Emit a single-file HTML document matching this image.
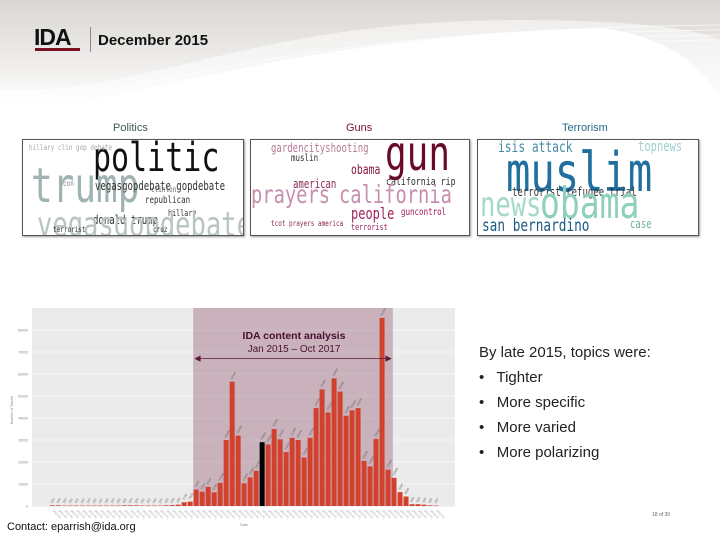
<!DOCTYPE html>
<html><head><meta charset="utf-8">
<style>
body{margin:0;width:720px;height:540px;overflow:hidden;background:#fff;font-family:"Liberation Sans",sans-serif;position:relative}
.abs{position:absolute}
.wc{position:absolute;top:139px;height:95px;border:1px solid #555;background:#fff;overflow:hidden;box-shadow:1px 1px 2px #999}
.wc span{position:absolute;white-space:nowrap;font-family:"DejaVu Sans Mono","Liberation Mono",monospace;line-height:1;transform:scaleX(.75);transform-origin:0 0}
.tt{position:absolute;top:122px;font-size:11px;font-family:"Liberation Sans",sans-serif}
.bul{position:absolute;left:479px;font-size:15px;color:#222}
</style></head><body>
<svg class="abs" style="left:0;top:0" width="720" height="130">
<defs><linearGradient id="hg" x1="0" y1="0" x2="0" y2="1"><stop offset="0" stop-color="#d9d6d2"/><stop offset="1" stop-color="#ffffff"/></linearGradient></defs>
<rect width="720" height="110" fill="url(#hg)"/>
<g fill="none" stroke="#ffffff" stroke-width="0.8" opacity="0.8">
<path d="M0,110 C200,80 300,30 720,25"/><path d="M0,115 C200,85 300,35 720,30"/><path d="M0,120 C200,90 300,40 720,35"/><path d="M0,125 C200,95 300,45 720,40"/>
</g>
<path d="M0,130 L0,90 C150,95 250,20 520,20 C640,20 700,30 720,40 L720,130 Z" fill="#fff" opacity="0.5"/>
<path d="M0,130 L0,112 C150,105 250,40 600,28 C660,35 700,60 720,100 L720,130 Z" fill="#fff"/>
</svg>
<div class="abs" style="left:34px;top:24px;font-weight:bold;font-size:23px;letter-spacing:-1px;color:#111">IDA</div>
<div class="abs" style="left:35px;top:48px;width:45px;height:3px;background:#7a1020"></div>
<div class="abs" style="left:90px;top:27px;width:1px;height:25px;background:#888"></div>
<div class="abs" style="left:98px;top:32px;font-weight:bold;font-size:15px;color:#111">December 2015</div>

<div class="tt" style="left:113px;color:#3d5a5a">Politics</div>
<div class="tt" style="left:346px;color:#7a1030">Guns</div>
<div class="tt" style="left:562px;color:#2a6a8a">Terrorism</div>

<div class="wc" style="left:22px;width:220px">
<span style="left:70px;top:-2px;font-size:40px;color:#111">politic</span>
<span style="left:8px;top:22px;font-size:48px;color:#9fb3b3">trump</span>
<span style="left:72px;top:40px;font-size:12px;color:#333">vegasgopdebate gopdebate</span>
<span style="left:122px;top:56px;font-size:10px;color:#333">republican</span>
<span style="left:128px;top:46px;font-size:8px;color:#666">clinton</span>
<span style="left:145px;top:70px;font-size:9px;color:#333">hillary</span>
<span style="left:40px;top:40px;font-size:8px;color:#888">con</span>
<span style="left:70px;top:74px;font-size:12px;color:#333">donald trump</span>
<span style="left:14px;top:68px;font-size:34px;color:#b8c4c4">vegasgopdebate</span>
<span style="left:6px;top:4px;font-size:8px;color:#aaa">hillary clin  gop debate</span>
<span style="left:30px;top:86px;font-size:8px;color:#333">terrorist</span>
<span style="left:130px;top:86px;font-size:8px;color:#333">cruz</span>
</div>
<div class="wc" style="left:250px;width:218px">
<span style="left:134px;top:-10px;font-size:48px;color:#6a0a2a">gun</span>
<span style="left:20px;top:2px;font-size:12px;color:#b77a95">gardencityshooting</span>
<span style="left:40px;top:14px;font-size:10px;color:#333">muslin</span>
<span style="left:100px;top:24px;font-size:13px;color:#8a1a40">obama</span>
<span style="left:135px;top:36px;font-size:11px;color:#333">california rip</span>
<span style="left:42px;top:38px;font-size:12px;color:#8a2a55">american</span>
<span style="left:0px;top:42px;font-size:25px;color:#c78fae">prayers</span>
<span style="left:88px;top:42px;font-size:25px;color:#c78fae">california</span>
<span style="left:100px;top:66px;font-size:16px;color:#a0205a">people</span>
<span style="left:150px;top:68px;font-size:10px;color:#a0205a">guncontrol</span>
<span style="left:100px;top:84px;font-size:9px;color:#a0205a">terrorist</span>
<span style="left:20px;top:80px;font-size:8px;color:#8a2a55">tcot prayers america</span>
</div>
<div class="wc" style="left:477px;width:220px">
<span style="left:20px;top:0px;font-size:15px;color:#4a8aa8">isis attack</span>
<span style="left:160px;top:0px;font-size:14px;color:#9fd0d0">topnews</span>
<span style="left:28px;top:6px;font-size:54px;color:#1f6fa0">muslim</span>
<span style="left:34px;top:46px;font-size:12px;color:#333">terrorist refugee trial</span>
<span style="left:2px;top:48px;font-size:34px;color:#a6d8cc">news</span>
<span style="left:62px;top:42px;font-size:44px;color:#8fcfbe">obama</span>
<span style="left:4px;top:78px;font-size:17px;color:#1a5a80">san bernardino</span>
<span style="left:152px;top:78px;font-size:12px;color:#6fb0a8">case</span>
</div>

<svg class="abs" style="left:0;top:300px" width="470" height="230" id="chart"></svg>

<div class="bul" style="top:344px">By late 2015, topics were:</div>
<div class="bul" style="top:369px">•&nbsp;&nbsp; Tighter</div>
<div class="bul" style="top:394px">•&nbsp;&nbsp; More specific</div>
<div class="bul" style="top:419px">•&nbsp;&nbsp; More varied</div>
<div class="bul" style="top:444px">•&nbsp;&nbsp; More polarizing</div>
<div class="abs" style="left:652px;top:512px;font-size:5px;color:#666">18 of 30</div>
<div class="abs" style="left:7px;top:521px;font-size:11px;color:#111">Contact: eparrish@ida.org</div>

<script>
const values=[300,300,200,200,200,200,200,200,200,200,200,200,300,300,300,200,200,200,200,300,400,600,
1700,2000,7500,6500,8700,6200,10500,30000,56500,32000,10300,13000,16000,29000,28000,35000,30300,24500,31000,30000,22000,31000,44500,53000,42500,58000,52000,41000,43500,44500,20500,18000,30500,85500,16500,12800,6300,4300,800,800,600,300,200];
const highlightIndex=35;
const yTicks=[0,10000,20000,30000,40000,50000,60000,70000,80000];
const shadeStart=23.5, shadeEnd=56.8;
const NS="http://www.w3.org/2000/svg";
const svg=document.getElementById('chart');
const n=values.length;
const plotL=32,plotR=455,plotT=8,y0=206;
const xs=i=>52.3+i*(1308/3-52.3)/(n-1);
const ys=v=>y0-v*(176/80000);
function mk(t,a){const e=document.createElementNS(NS,t);for(const k in a)e.setAttribute(k,a[k]);svg.appendChild(e);return e;}
let bg=mk('rect',{x:plotL,y:plotT,width:plotR-plotL,height:y0-plotT+1,fill:'#ebebeb'});


yTicks.forEach(t=>{let l=mk('line',{x1:plotL,x2:plotR,y1:ys(t),y2:ys(t),stroke:'#fff','stroke-width':0.6});


let tx=mk('text',{x:28,y:ys(t)+1.5,'font-size':3.5,fill:'#888','text-anchor':'end'});tx.textContent=t;

});
let sh=mk('rect',{x:xs(shadeStart),y:plotT,width:xs(shadeEnd)-xs(shadeStart),height:y0-plotT,fill:'#7a3050',opacity:0.3});


values.forEach((v,i)=>{const h=y0-ys(v);
let r=mk('rect',{x:xs(i)-2.5,y:ys(v),width:5,height:Math.max(h,0.2),fill:i===highlightIndex?'#000':'#d2402e'});


let lb=mk('text',{x:xs(i),y:ys(v)-2,'font-size':3,fill:'#666',transform:`rotate(-60 ${xs(i)} ${ys(v)-2})`});lb.textContent=v;


let xl=mk('text',{x:xs(i),y:y0+5,'font-size':3,fill:'#999',transform:`rotate(45 ${xs(i)} ${y0+5})`});xl.textContent='2015-01';

});
const ax=y0-176/80000*67000;
let ar=mk('path',{d:`M${xs(shadeStart)+2},${ax} L${xs(shadeEnd)-2},${ax} M${xs(shadeStart)+2},${ax} l5,-2.5 l0,5 z M${xs(shadeEnd)-2},${ax} l-5,-2.5 l0,5 z`,stroke:'#5a1a38','stroke-width':0.8,fill:'#5a1a38'});


let t1=mk('text',{x:294,y:39,'font-size':10.5,'font-weight':'bold',fill:'#4a1030','text-anchor':'middle'});t1.textContent='IDA content analysis';


let t2=mk('text',{x:294,y:52,'font-size':10,fill:'#4a1030','text-anchor':'middle'});t2.textContent='Jan 2015 – Oct 2017';


let yt=mk('text',{x:13,y:110,'font-size':3.5,fill:'#888','text-anchor':'middle',transform:'rotate(-90 13 110)'});yt.textContent='Number of Tweets';


let xt=mk('text',{x:244,y:226,'font-size':3.5,fill:'#888','text-anchor':'middle'});xt.textContent='Date';


</script>
</body></html>
